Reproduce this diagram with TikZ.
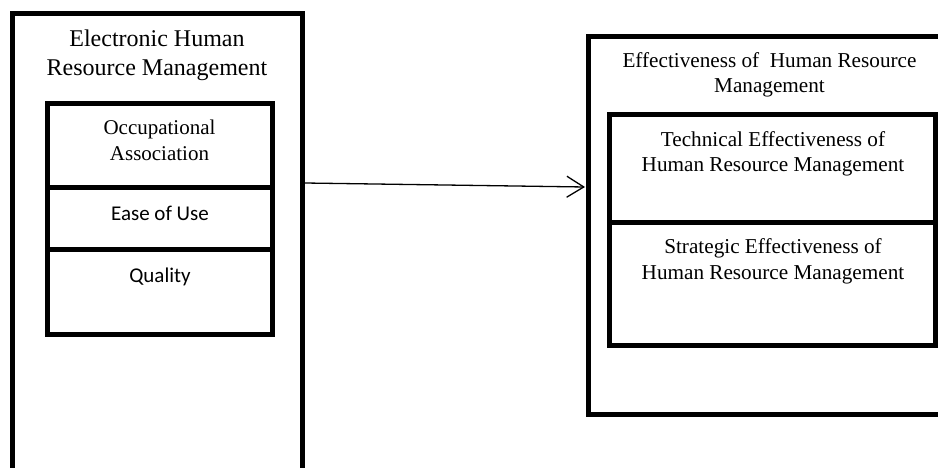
\documentclass[tikz,border=0pt]{standalone}
\usepackage{fontspec}
\setmainfont{Liberation Serif}
\newfontfamily\calibri{Carlito}
\usetikzlibrary{arrows.meta}

\tikzset{
  frame/.style={draw,line width=5pt,outer sep=0pt,inner sep=0pt},
  lbl/.style={anchor=base,align=center,inner sep=0pt,font=\fontsize{21.2}{25.5}\selectfont}
}

\begin{document}
\begin{tikzpicture}[x=1pt,y=-1pt]
    \useasboundingbox (0,0) rectangle (938,468);
    \clip (0,0) rectangle (938,468);
    % left side
    \node[frame,minimum width=289.5pt,minimum height=506pt] (ehrm) at (157.25,267) {};
    \node[lbl,font=\fontsize{24}{29}\selectfont] (ehrmt) at (157,76) {Electronic Human\\Resource Management};
    \node[frame,minimum width=224.5pt,minimum height=83.5pt] (occ) at (159.75,145.75) {};
    \node[frame,minimum width=224.5pt,minimum height=61.5pt] (ease) at (159.75,218.25) {};
    \node[frame,minimum width=224.5pt,minimum height=85pt] (qual) at (159.75,291.5) {};
    \node[lbl,font=\fontsize{21}{26}\selectfont] (occt) at (159.5,161) {Occupational\\Association};
    \node[lbl,font=\calibri\fontsize{21}{26}\selectfont] (easet) at (160,221) {Ease of Use};
    \node[lbl,font=\calibri\fontsize{21}{26}\selectfont] (qualt) at (160,282) {Quality};
    % right side
    \node[frame,minimum width=363pt,minimum height=377pt] (ehr) at (769.5,225.5) {};
    \node[lbl] (ehrt) at (769.5,93) {Effectiveness of\ \ Human Resource\\Management};
    \node[frame,minimum width=326pt,minimum height=108pt] (tech) at (772,169) {};
    \node[frame,minimum width=326pt,minimum height=122pt] (strat) at (772,284) {};
    \node[lbl] (techt) at (773,172) {Technical Effectiveness of\\Human Resource Management};
    \node[lbl] (stratt) at (773,279) {Strategic Effectiveness of\\Human Resource Management};
    % connector
    \draw[line width=1.3pt,-{Straight Barb[length=17pt,width=21pt,line width=1.3pt]}]
        ([xshift=2.5pt,yshift=-169pt]ehrm.north east) -- ([xshift=-3pt,yshift=-150pt]ehr.north west);
\end{tikzpicture}
\end{document}
